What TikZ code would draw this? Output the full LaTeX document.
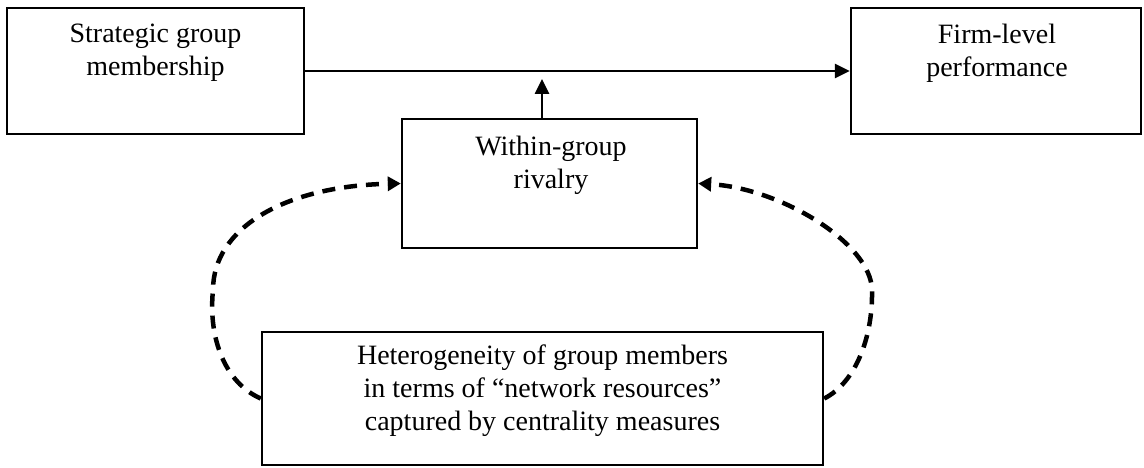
\documentclass[tikz,border=0pt]{standalone}
\usepackage{fontspec}
\setmainfont{Liberation Serif}
\usetikzlibrary{arrows.meta}
\begin{document}
\begin{tikzpicture}[x=1pt,y=1pt,
  box/.style={draw, line width=2.4pt, rectangle, inner sep=0pt},
  lbl/.style={anchor=north, align=center, inner sep=0pt, font=\fontsize{28}{33}\selectfont},
  link/.style={line width=2.6pt, -{Triangle[length=15pt,width=14pt]}},
  feedback/.style={line width=4.5pt, dash pattern=on 13pt off 9pt, -{Triangle[length=13pt,width=14pt]}}]
\useasboundingbox (0,0) rectangle (1144,468);

% boxes
\node[box, minimum width=297pt, minimum height=126pt] (sgm) at (155.5,397) {};
\node[box, minimum width=290pt, minimum height=126pt] (flp) at (996,397) {};
\node[box, minimum width=295pt, minimum height=129pt] (wgr) at (549.5,284.5) {};
\node[box, minimum width=561pt, minimum height=133pt] (het) at (542.5,69.5) {};

% box texts, set near the top of each box
\node[lbl] (sgm-t) at (155.5,444.3) {Strategic group\\membership};
\node[lbl] (flp-t) at (997,444.3) {Firm-level\\performance};
\node[lbl] (wgr-t) at (551,332.3) {Within-group\\rivalry};
\node[lbl] (het-t) at (542.5,123.3) {Heterogeneity of group members\\in terms of “network resources”\\captured by centrality measures};

% main effect and moderation
\draw[link] (sgm.east) -- (flp.west);
\coordinate (meet) at (542,389);
\draw[link] ([xshift=-7.5pt]wgr.north) -- (meet);

% feedback loops from heterogeneity to rivalry
\draw[feedback] (het.west) .. controls (225,85) and (208,130) .. (213,178)
  .. controls (213,240) and (285,282) .. (wgr.west);
\draw[feedback] (het.east) .. controls (855,85) and (873,130) .. (872,178)
  .. controls (871,225) and (780,280) .. (wgr.east);
\end{tikzpicture}
\end{document}
